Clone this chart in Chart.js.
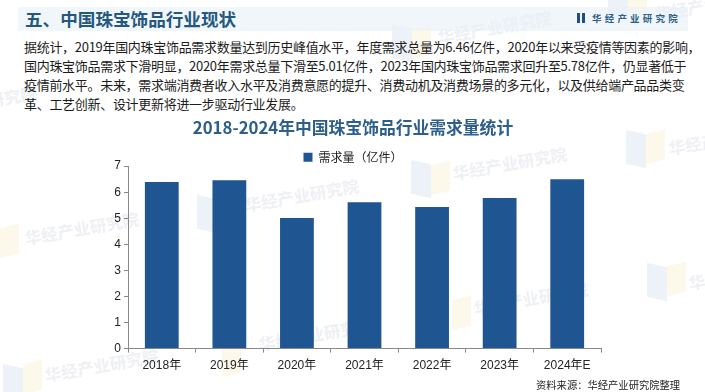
<!DOCTYPE html>
<html>
<head>
<meta charset="utf-8">
<script src="https://cdn.jsdelivr.net/npm/chart.js@4"></script>
<style>
html, body { margin: 0; padding: 0; background: #fff; }
#page { position: relative; width: 705px; height: 392px; overflow: hidden; font-family: "Noto Sans CJK SC", sans-serif; }
#band { position: absolute; left: 18px; top: 7px; width: 670px; height: 24px; background: rgba(232, 240, 249, 0.6); }
#heading { position: absolute; left: 25px; top: 5px; font-size: 17.6px; line-height: 28px; font-weight: 700; color: #24587f; white-space: nowrap; }
#brand { position: absolute; left: 592px; top: 11px; font-size: 9.5px; line-height: 14px; font-weight: 700; letter-spacing: 3.2px; color: #2d5f8a; white-space: nowrap; }
.logo { position: absolute; top: 13px; width: 3px; height: 10px; background: #1f4f80; }
.line { position: absolute; left: 24px; font-size: 13px; letter-spacing: -0.3px; line-height: 20px; color: #1c1c1c; white-space: nowrap; }
.mark { position: absolute; font-size: 16.5px; line-height: 20px; font-weight: 700; color: #eef0f4; white-space: nowrap; transform: rotate(-10deg); }
.shape { position: absolute; width: 20px; height: 34px; background: #edf2f9; transform: skewY(12deg); }
.shape2 { position: absolute; width: 19px; height: 30px; background: #fdf9ea; transform: skewY(-14deg); }
#chartBox { position: absolute; left: 0; top: 115px; width: 705px; height: 277px; }
#source { position: absolute; left: 536px; top: 377px; font-size: 10.3px; line-height: 15px; color: #222; white-space: nowrap; }
</style>
</head>
<body>
<div id="page">
  <div class="shape2" style="left:0px;top:226px"></div>
  <div class="mark" style="left:24px;top:218px">华经产业研究院</div>
  <div class="shape" style="left:197px;top:197px"></div><div class="shape2" style="left:217px;top:198px"></div>
  <div class="mark" style="left:244px;top:185px">华经产业研究院</div>
  <div class="shape" style="left:411px;top:162px"></div><div class="shape2" style="left:431px;top:163px"></div>
  <div class="mark" style="left:452px;top:153px">华经产业研究院</div>
  <div class="shape" style="left:392px;top:26px"></div><div class="shape2" style="left:412px;top:27px"></div>
  <div class="mark" style="left:437px;top:17px">华经产业研究院</div>
  <div class="shape" style="left:626px;top:132px"></div><div class="shape2" style="left:646px;top:132px"></div>
  <div class="mark" style="left:668px;top:128px">华经产业研究院</div>
  <div class="shape" style="left:647px;top:265px"></div><div class="shape2" style="left:667px;top:264px"></div>
  <div class="mark" style="left:688px;top:263px">华经产业研究院</div>
  <div class="shape2" style="left:452px;top:298px"></div>
  <div class="mark" style="left:473px;top:288px">华经产业研究院</div>
  <div class="shape2" style="left:222px;top:345px"></div>
  <div class="mark" style="left:258px;top:324px">华经产业研究院</div>
  <div class="shape" style="left:3px;top:366px"></div><div class="shape2" style="left:23px;top:362px"></div>
  <div class="mark" style="left:44px;top:355px">华经产业研究院</div>
  <div class="mark" style="left:-78px;top:92px">华经产业研究院</div>
  <div class="shape" style="left:608px;top:-16px"></div><div class="shape2" style="left:628px;top:-14px"></div>
  <div class="mark" style="left:654px;top:-6px">华经产业研究院</div>

  <div id="band"></div>
  <div id="heading">五、中国珠宝饰品行业现状</div>
  <div class="logo" style="left:577px"></div><div class="logo" style="left:582px"></div>
  <div id="brand">华经产业研究院</div>
  <div id="para"></div>
  <div id="chartBox"><canvas id="myChart"></canvas></div>
  <div id="source">资料来源：华经产业研究院整理</div>
</div>
<script>
const annees = ['2018年', '2019年', '2020年', '2021年', '2022年', '2023年', '2024年E']
const demande = [6.39, 6.46, 5.01, 5.62, 5.43, 5.78, 6.5]
const lignes = [
    '据统计，2019年国内珠宝饰品需求数量达到历史峰值水平，年度需求总量为6.46亿件，2020年以来受疫情等因素的影响，',
    '国内珠宝饰品需求下滑明显，2020年需求总量下滑至5.01亿件，2023年国内珠宝饰品需求回升至5.78亿件，仍显著低于',
    '疫情前水平。未来，需求端消费者收入水平及消费意愿的提升、消费动机及消费场景的多元化，以及供给端产品品类变',
    '革、工艺创新、设计更新将进一步驱动行业发展。'
]

lignes.forEach((texte, i) => {
    const el = document.createElement('div')
    el.className = 'line'
    el.style.top = (37 + i * 19) + 'px'
    el.textContent = texte
    document.getElementById('para').appendChild(el)
})

const police = '"Liberation Sans", "Noto Sans CJK SC", sans-serif'

// la legende touche presque le haut du graphique : on lui retire un peu de hauteur
const legendeSerree = {
    id: 'legendeSerree',
    beforeInit(chart) {
        const fitOrigine = chart.legend.fit
        chart.legend.fit = function () {
            fitOrigine.call(this)
            this.height -= 7
        }
    }
}

const data = {
    labels: annees,
    datasets: [{
        label: '需求量（亿件）',
        data: demande,
        backgroundColor: '#1f5591',
        categoryPercentage: 1,
        barPercentage: 0.5
    }]
};

const config = {
    type: 'bar',
    data: data,
    plugins: [legendeSerree],
    options: {
        responsive: false,
        animation: false,
        layout: { padding: { left: 105, right: 104, top: 3, bottom: 13 } },
        plugins: {
            tooltip: { enabled: false },
            title: {
                display: true,
                text: '2018-2024年中国珠宝饰品行业需求量统计',
                color: '#2d5f8a',
                font: { family: '"Noto Sans CJK SC", sans-serif', size: 16.8, weight: 'bold' },
                padding: { top: 0, bottom: 11 }
            },
            legend: {
                display: true,
                labels: {
                    boxWidth: 9,
                    boxHeight: 9,
                    color: '#222',
                    font: { family: '"Noto Sans CJK SC", sans-serif', size: 12 },
                    padding: 2
                }
            }
        },
        scales: {
            x: {
                offset: true,
                border: { color: '#888' },
                grid: { display: true, drawOnChartArea: false, drawTicks: true, tickLength: 4, color: '#888', offset: true },
                ticks: { color: '#222', font: { family: police, size: 12 }, padding: 6, maxRotation: 0 }
            },
            y: {
                min: 0,
                max: 7,
                afterFit: (axe) => { axe.width = 23 },
                border: { color: '#888' },
                grid: { display: true, drawOnChartArea: false, drawTicks: true, tickLength: 4, color: '#888' },
                ticks: { stepSize: 1, color: '#222', font: { family: police, size: 12 }, padding: 3 }
            }
        }
    }
};

const ctx = document.getElementById('myChart');
ctx.width = 705
ctx.height = 277

new Chart(ctx, config);
</script>
</body>
</html>
